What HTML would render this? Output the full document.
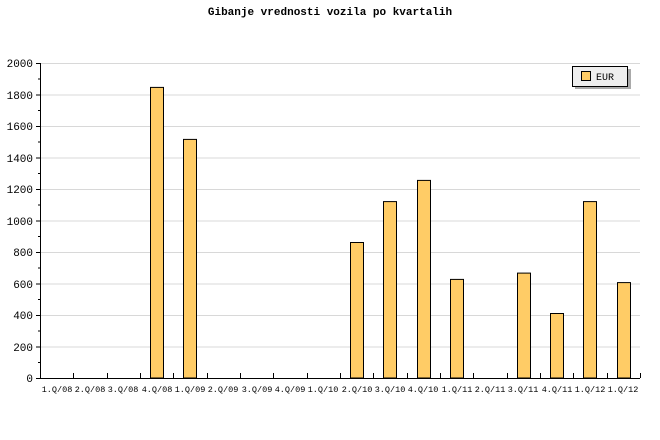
<!DOCTYPE html>
<html><head><style>body{margin:0;background:#fff}svg{display:block}</style></head><body>
<svg width="660" height="440" xmlns="http://www.w3.org/2000/svg" font-family="Liberation Mono, monospace">
<rect width="660" height="440" fill="#fff"/>
<text x="330" y="15" text-anchor="middle" font-size="11" font-weight="bold">Gibanje vrednosti vozila po kvartalih</text>
<g stroke="#d8d8d8" stroke-width="1">
<line x1="41" x2="640" y1="63.5" y2="63.5"/><line x1="41" x2="640" y1="95" y2="95"/><line x1="41" x2="640" y1="126.5" y2="126.5"/><line x1="41" x2="640" y1="158" y2="158"/><line x1="41" x2="640" y1="189.5" y2="189.5"/><line x1="41" x2="640" y1="221" y2="221"/><line x1="41" x2="640" y1="252.5" y2="252.5"/><line x1="41" x2="640" y1="284" y2="284"/><line x1="41" x2="640" y1="315.5" y2="315.5"/><line x1="41" x2="640" y1="347" y2="347"/>
</g>
<g fill="#ffcc66" stroke="#000" stroke-width="1">
<rect x="150.5" y="87.4" width="13" height="290.6"/>
<rect x="183.5" y="139.4" width="13" height="238.6"/>
<rect x="350.5" y="242.5" width="13" height="135.5"/>
<rect x="383.5" y="201.6" width="13" height="176.4"/>
<rect x="417.5" y="180.4" width="13" height="197.6"/>
<rect x="450.5" y="279.4" width="13" height="98.6"/>
<rect x="517.5" y="273.1" width="13" height="104.9"/>
<rect x="550.5" y="313.5" width="13" height="64.5"/>
<rect x="583.5" y="201.6" width="13" height="176.4"/>
<rect x="617.5" y="282.6" width="13" height="95.4"/>
</g>
<g stroke="#000" stroke-width="1">
<line x1="40.5" x2="40.5" y1="63" y2="378"/>
<line x1="40" x2="640" y1="378.5" y2="378.5"/>
<path d="M36 63.5h5M36 95h5M36 126.5h5M36 158h5M36 189.5h5M36 221h5M36 252.5h5M36 284h5M36 315.5h5M36 347h5M36 378.5h5"/>
<path d="M38 79h3M38 110.5h3M38 142h3M38 173.5h3M38 205h3M38 236.5h3M38 268h3M38 299.5h3M38 331h3M38 362.5h3"/>
<path d="M73.5 373v5M107.5 373v5M140.5 373v5M173.5 373v5M207.5 373v5M240.5 373v5M273.5 373v5M307.5 373v5M340.5 373v5M373.5 373v5M407.5 373v5M440.5 373v5M473.5 373v5M507.5 373v5M540.5 373v5M573.5 373v5M607.5 373v5M640.5 373v5"/>
</g>
<g font-size="11" text-anchor="end">
<text x="33" y="67">2000</text><text x="33" y="99">1800</text><text x="33" y="130">1600</text><text x="33" y="162">1400</text><text x="33" y="193">1200</text><text x="33" y="225">1000</text><text x="33" y="256">800</text><text x="33" y="288">600</text><text x="33" y="319">400</text><text x="33" y="351">200</text><text x="33" y="382">0</text>
</g>
<g font-size="8.5" text-anchor="middle">
<text x="57" y="392">1.Q/08</text><text x="90" y="392">2.Q/08</text><text x="123" y="392">3.Q/08</text><text x="157" y="392">4.Q/08</text><text x="190" y="392">1.Q/09</text><text x="223" y="392">2.Q/09</text><text x="257" y="392">3.Q/09</text><text x="290" y="392">4.Q/09</text><text x="323" y="392">1.Q/10</text><text x="357" y="392">2.Q/10</text><text x="390" y="392">3.Q/10</text><text x="423" y="392">4.Q/10</text><text x="457" y="392">1.Q/11</text><text x="490" y="392">2.Q/11</text><text x="523" y="392">3.Q/11</text><text x="557" y="392">4.Q/11</text><text x="590" y="392">1.Q/12</text><text x="623" y="392">1.Q/12</text>
</g>
<rect x="575" y="69" width="56" height="20" fill="#aaa"/>
<rect x="572.5" y="66.5" width="55" height="20" fill="#eee" stroke="#000"/>
<rect x="581.5" y="71.5" width="9" height="9" fill="#ffcc66" stroke="#000"/>
<text x="596" y="80" font-size="10">EUR</text>
</svg>
</body></html>
